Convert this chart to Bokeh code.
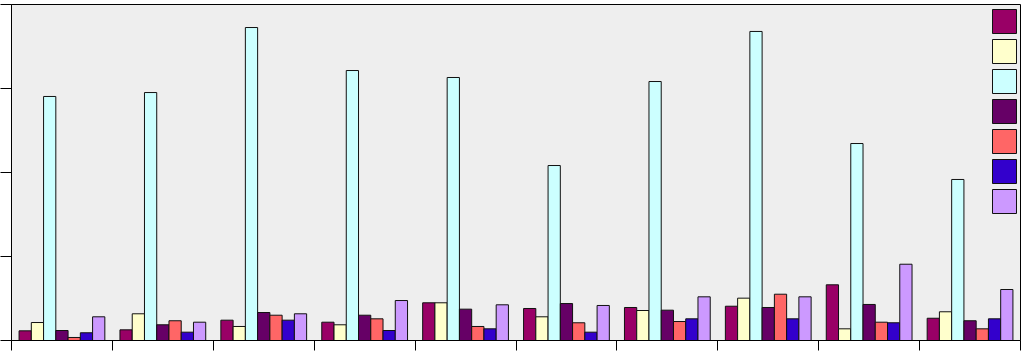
from bokeh.plotting import figure
from bokeh.models import Legend, LegendItem, FixedTicker, Range1d
from bokeh.embed import file_html
from bokeh.resources import INLINE
import numpy as np

groups = list(range(10))
series_colors = ["#990066", "#FFFFCC", "#CCFFFF", "#660066", "#FF6666", "#3300CC", "#CC99FF"]
s1 = [11.5, 12.7, 24.2, 21.8, 44.9, 38.1, 39.3, 40.8, 66.3, 26.5]
s2 = [21.4, 31.8, 16.7, 18.7, 44.9, 28.2, 35.7, 50.4, 13.9, 34.2]
s3 = [290.5, 295.2, 372.6, 321.4, 313.1, 208.3, 308.3, 367.9, 234.5, 191.7]
s4 = [11.9, 18.7, 33.3, 30.1, 37.3, 44.0, 36.1, 39.3, 42.9, 23.5]
s5 = [3.6, 23.5, 30.1, 25.8, 16.7, 21.1, 22.6, 55.1, 21.8, 13.9]
s6 = [9.2, 9.9, 24.2, 11.9, 13.9, 9.9, 25.8, 25.8, 21.1, 25.8]
s7 = [28.2, 21.8, 31.8, 47.6, 42.5, 41.7, 52.0, 52.0, 90.8, 60.7]
series = [s1, s2, s3, s4, s5, s6, s7]
y_ticks = [0, 100, 200, 300, 400]
x_ticks = list(range(11))

p = figure(width=1023, height=353, output_backend="svg", toolbar_location=None,
           x_range=Range1d(0, 10), y_range=Range1d(0, 400),
           min_border_left=11, min_border_top=4, min_border_right=3, min_border_bottom=13)
p.background_fill_color = "#EEEEEE"
p.border_fill_color = "white"
p.outline_line_color = "black"
p.outline_line_width = 1
p.xgrid.visible = False
p.ygrid.visible = False

for ax in (p.xaxis[0], p.yaxis[0]):
    ax.major_label_text_font_size = "0px"
    ax.major_label_standoff = 0
    ax.minor_tick_line_color = None
    ax.major_tick_in = 0
    ax.axis_line_color = "black"
    ax.major_tick_line_color = "black"
p.xaxis[0].ticker = FixedTicker(ticks=x_ticks)
p.xaxis[0].major_label_overrides = {t: "" for t in x_ticks}
p.xaxis[0].major_tick_out = 10
p.yaxis[0].ticker = FixedTicker(ticks=y_ticks)
p.yaxis[0].major_label_overrides = {t: "" for t in y_ticks}
p.yaxis[0].major_tick_out = 11

n = len(series)
span = 0.85
bw = span / n
items = []
for i, (vals, col) in enumerate(zip(series, series_colors)):
    xs = np.array(groups) + (1 - span) / 2 + (i + 0.5) * bw
    r = p.vbar(x=xs, top=vals, width=bw, bottom=0, fill_color=col,
               line_color="#111111", line_width=1)
    items.append(LegendItem(label="", renderers=[r]))

legend = Legend(items=items, location=(978, 124), glyph_width=30, glyph_height=30,
                spacing=0, padding=0, margin=0, label_width=0, label_standoff=0,
                label_text_font_size="1px", background_fill_alpha=0,
                border_line_alpha=0)
p.add_layout(legend)

open("out.html", "w").write(file_html(p, INLINE))
